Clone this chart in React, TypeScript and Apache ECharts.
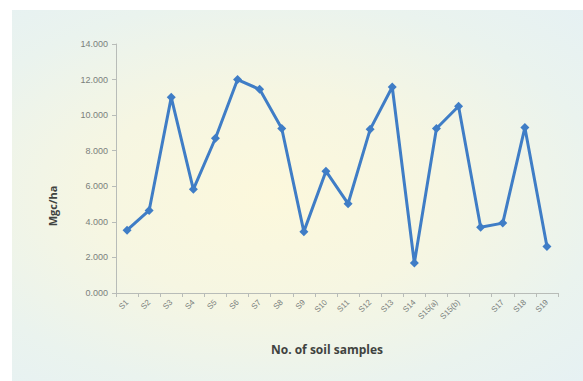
import React, { useEffect, useRef } from "react";
import * as echarts from "echarts";

const categories = [
  "S1", "S2", "S3", "S4", "S5", "S6", "S7", "S8", "S9", "S10",
  "S11", "S12", "S13", "S14", "S15(a)", "S15(b)", "", "S17", "S18", "S19",
];
const values = [
  3.53, 4.64, 11.0, 5.83, 8.7, 12.0, 11.45, 9.25, 3.45, 6.85,
  5.02, 9.2, 11.58, 1.68, 9.25, 10.5, 3.7, 3.93, 9.3, 2.62,
];
const yTicks = [0, 2, 4, 6, 8, 10, 12, 14];
const yTitle = "Mgc/ha";
const xTitle = "No. of soil samples";

export default function App() {
  const ref = useRef<HTMLDivElement>(null);
  useEffect(() => {
    if (!ref.current) return;
    const chart = echarts.init(ref.current, null, { renderer: "svg" });
    chart.setOption({
      animation: false,
      backgroundColor: "transparent",
      grid: { left: 116, right: 25, top: 44, bottom: 88, containLabel: false },
      xAxis: {
        type: "category",
        data: categories,
        boundaryGap: true,
        axisLine: { show: true, lineStyle: { color: "#b8bcb8", width: 1 } },
        axisTick: { show: true, interval: 0, length: 4, lineStyle: { color: "#b8bcb8" } },
        axisLabel: {
          interval: 0,
          rotate: 45,
          fontSize: 8,
          color: "#7a7f7c",
          margin: 8,
          fontFamily: "Liberation Sans",
        },
        name: "",
      },
      yAxis: {
        type: "value",
        min: yTicks[0],
        max: yTicks[yTicks.length - 1],
        interval: 2,
        splitLine: { show: false },
        axisLine: { show: true, lineStyle: { color: "#b8bcb8", width: 1 } },
        axisTick: { show: true, length: 4, lineStyle: { color: "#b8bcb8" } },
        axisLabel: {
          fontSize: 9,
          color: "#7a7f7c",
          margin: 8,
          fontFamily: "Liberation Sans",
          formatter: (v: number) => v.toFixed(3),
        },
      },
      graphic: [
        {
          type: "text",
          x: 52,
          y: 206,
          rotation: Math.PI / 2,
          style: {
            text: yTitle,
            fontSize: 11,
            fontWeight: "bold",
            fill: "#3f4340",
            fontFamily: "Open Sans",
            align: "center",
            verticalAlign: "middle",
          },
        },
        {
          type: "text",
          x: 327,
          y: 349,
          style: {
            text: xTitle,
            fontSize: 12,
            fontWeight: "bold",
            fill: "#3f4340",
            fontFamily: "Open Sans",
            align: "center",
            verticalAlign: "middle",
          },
        },
      ],
      series: [
        {
          type: "line",
          data: values,
          symbol: "diamond",
          symbolSize: 9,
          lineStyle: { color: "#3f7dc6", width: 3 },
          itemStyle: { color: "#3f7dc6" },
        },
      ],
    });
    return () => chart.dispose();
  }, []);
  return (
    <div
      style={{
        position: "fixed",
        left: 0,
        top: 0,
        width: 583,
        height: 381,
        background: "#ffffff",
      }}
    >
      <div
        style={{
          position: "absolute",
          left: 12,
          top: 10,
          width: 571,
          height: 371,
          background:
            "radial-gradient(ellipse at 45% 50%, #fcf8dc 0%, #f6f6e2 40%, #eaf3ee 75%, #e6f1f3 100%)",
        }}
      />
      <div ref={ref} style={{ position: "absolute", left: 0, top: 0, width: 583, height: 381 }} />
    </div>
  );
}
